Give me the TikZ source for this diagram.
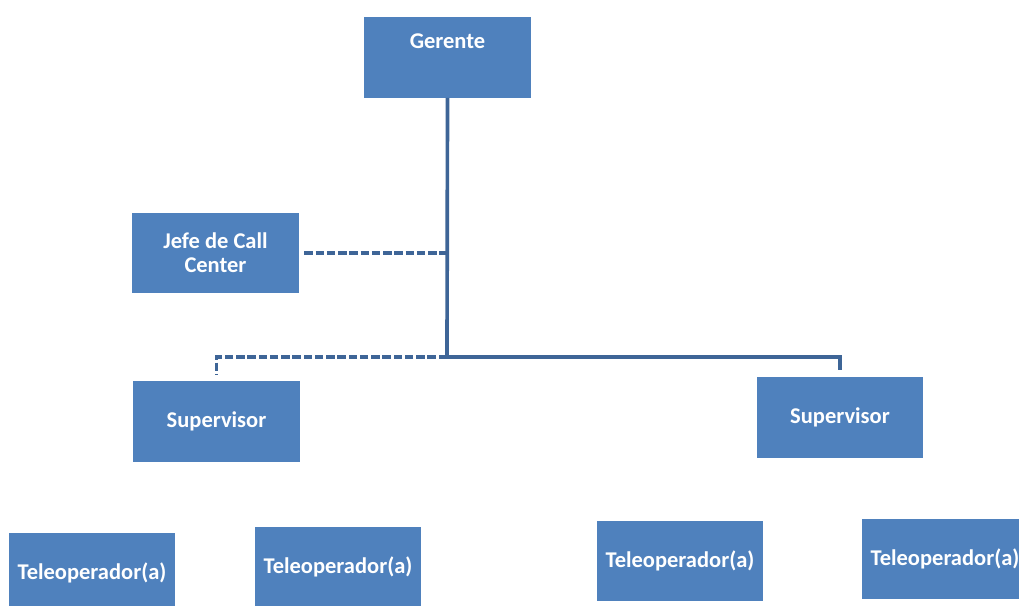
\documentclass[tikz,border=0pt]{standalone}
\usepackage{fontspec}
\setmainfont{Carlito}
\usepackage{tikz}
\usetikzlibrary{positioning}
\usetikzlibrary{calc}

\definecolor{cajaazul}{HTML}{4F81BD}
\definecolor{lineaazul}{HTML}{3E6597}

\begin{document}
\begin{tikzpicture}[
  x=0.025cm, y=-0.025cm,
  font=\fontsize{16}{17}\selectfont\bfseries,
  caja/.style={fill=cajaazul, text=white, minimum width=4.15cm, minimum height=2cm, inner sep=0pt, align=center},
  arriba/.style={text depth=0.83cm},
  conn/.style={draw=lineaazul, line width=2.6pt},
  dashedconn/.style={draw=lineaazul, line width=2.6pt, dash pattern=on 6pt off 2pt}
]

% Frame of the picture
\useasboundingbox (0,0) rectangle (1019,605);

% Top level
\node[caja, arriba] (gerente) at (447.5,57.5) {Gerente};
\node[caja] (jefe) at (215.5,253) {Jefe de Call\\Center};

% Supervisors
\node[caja] (supizq) at (216.5,421.5) {Supervisor};
\node[caja] (supder) at (840,417.5) {Supervisor};

% Operators
\node[caja] (tele1) at (92,573) {Teleoperador(a)};
\node[caja] (tele2) at (338,567) {Teleoperador(a)};
\node[caja] (tele3) at (680,561) {Teleoperador(a)};
\node[caja] (tele4) at (945,559) {Teleoperador(a)};

% Junction of the tree
\coordinate (junta) at (447,357);

% Connectors
\draw[conn] (gerente.south) -- (junta);
\draw[conn, shorten >=5pt] (junta) -| (supder.north);
\draw[dashedconn, shorten >=5pt] (junta) -| (supizq.north);
\draw[dashedconn, shorten <=4pt] (jefe.east) -- (jefe.east -| junta);

\end{tikzpicture}
\end{document}
